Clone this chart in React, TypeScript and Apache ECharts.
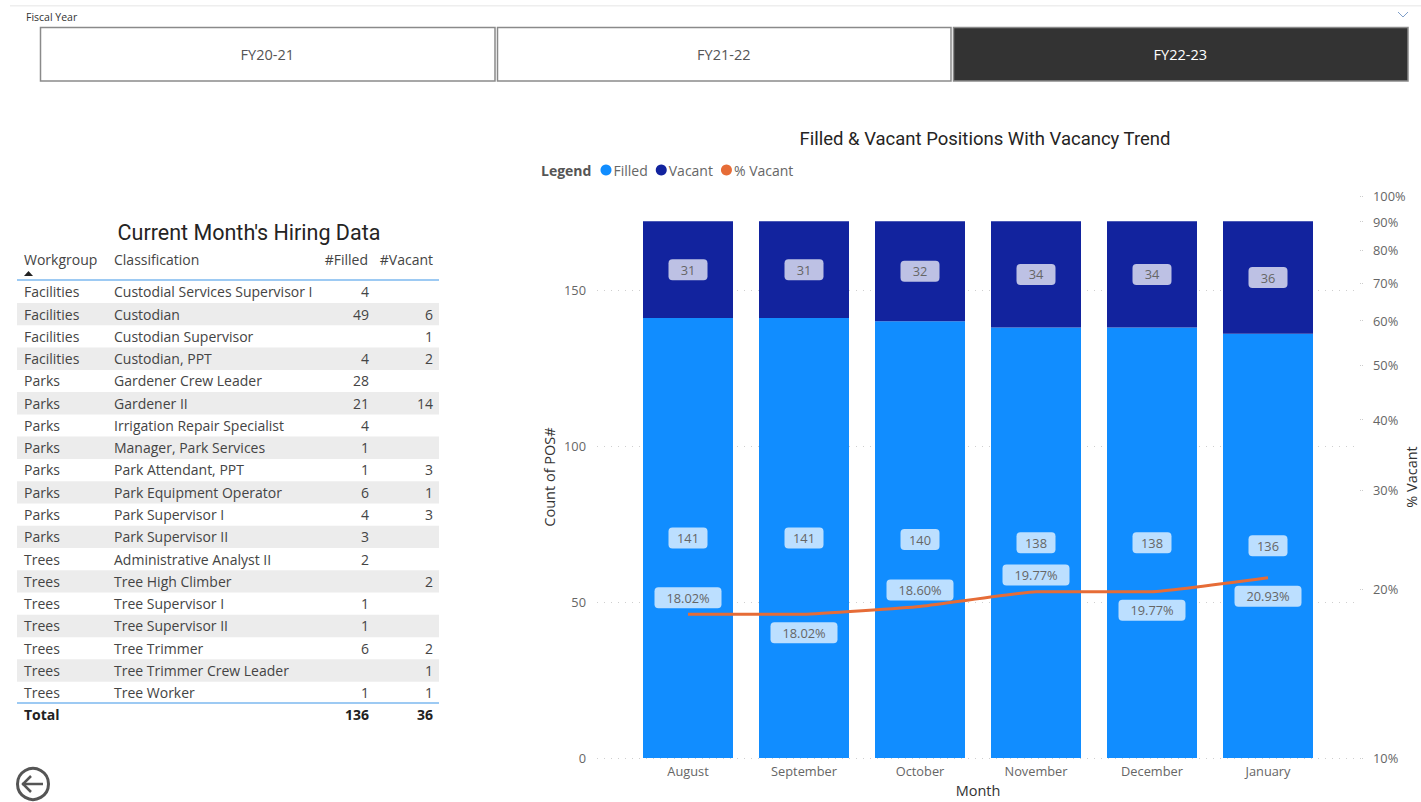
import React, { useEffect, useRef } from "react";
import * as echarts from "echarts";

const months = ["August", "September", "October", "November", "December", "January"];
const filled = [141, 141, 140, 138, 138, 136];
const vacant = [31, 31, 32, 34, 34, 36];
const pctVacant = [18.02, 18.02, 18.6, 19.77, 19.77, 20.93];
const pctTicks = [10, 20, 30, 40, 50, 60, 70, 80, 90, 100];

const fiscalYears = ["FY20-21", "FY21-22", "FY22-23"];
const tableHeader = ["Workgroup", "Classification", "#Filled", "#Vacant"];
const workgroups = ["Facilities", "Facilities", "Facilities", "Facilities", "Parks", "Parks", "Parks", "Parks", "Parks", "Parks", "Parks", "Parks", "Trees", "Trees", "Trees", "Trees", "Trees", "Trees", "Trees"];
const classifications = ["Custodial Services Supervisor I", "Custodian", "Custodian Supervisor", "Custodian, PPT", "Gardener Crew Leader", "Gardener II", "Irrigation Repair Specialist", "Manager, Park Services", "Park Attendant, PPT", "Park Equipment Operator", "Park Supervisor I", "Park Supervisor II", "Administrative Analyst II", "Tree High Climber", "Tree Supervisor I", "Tree Supervisor II", "Tree Trimmer", "Tree Trimmer Crew Leader", "Tree Worker"];
const rowFilled = [4, 49, null, 4, 28, 21, 4, 1, 1, 6, 4, 3, 2, null, 1, 1, 6, null, 1];
const rowVacant = [null, 6, 1, 2, null, 14, null, null, 3, 1, 3, null, null, 2, null, null, 2, 1, 1];
const totals = ["Total", "136", "36"];

const FONT = "'Open Sans', 'Noto Sans', sans-serif";
const TITLE_FONT = "Roboto, 'Noto Sans', sans-serif";
const GREY = "#666666";
const TEXT = "#444444";

const text = (x: number, y: number, t: string, o: any = {}) => ({
  type: "text",
  x,
  y,
  silent: true,
  style: {
    text: t,
    fontFamily: FONT,
    fontSize: 14,
    fill: TEXT,
    textVerticalAlign: "middle",
    verticalAlign: "middle",
    ...o,
  },
});

function tableGraphics() {
  const out: any[] = [];
  const rowH = 22.27;
  const y0 = 292;
  const textY = -0.2;
  const X = { wg: 24, cl: 114, fi: 369, va: 433 };
  workgroups.forEach((wg, i) => {
    const y = y0 + i * rowH;
    if (i % 2 === 1) {
      out.push({ type: "rect", shape: { x: 17, y: y - 11.3, width: 422, height: 22.4 }, style: { fill: "#ececec" }, silent: true });
    }
    out.push(text(X.wg, y + textY, wg));
    out.push(text(X.cl, y + textY, classifications[i]));
    if (rowFilled[i] != null) out.push(text(X.fi, y + textY, String(rowFilled[i]), { textAlign: "right", align: "right" }));
    if (rowVacant[i] != null) out.push(text(X.va, y + textY, String(rowVacant[i]), { textAlign: "right", align: "right" }));
  });
  out.push(text(X.wg, 259.5, tableHeader[0]));
  out.push(text(X.cl, 259.5, tableHeader[1]));
  out.push(text(368, 259.5, tableHeader[2], { textAlign: "right", align: "right" }));
  out.push(text(433, 259.5, tableHeader[3], { textAlign: "right", align: "right" }));
  out.push({ type: "polygon", shape: { points: [[24, 276], [33, 276], [28.5, 271]] }, style: { fill: "#222" }, silent: true });
  out.push({ type: "line", shape: { x1: 17, y1: 280, x2: 439, y2: 280 }, style: { stroke: "#7db8ef", lineWidth: 1.5 }, silent: true });
  out.push({ type: "line", shape: { x1: 17, y1: 703, x2: 439, y2: 703 }, style: { stroke: "#7db8ef", lineWidth: 1.5 }, silent: true });
  out.push(text(X.wg, 714.5, totals[0], { fontWeight: "bold", fill: "#222" }));
  out.push(text(X.fi, 714.5, totals[1], { fontWeight: "bold", fill: "#222", textAlign: "right", align: "right" }));
  out.push(text(X.va, 714.5, totals[2], { fontWeight: "bold", fill: "#222", textAlign: "right", align: "right" }));
  out.push(text(249, 232, "Current Month's Hiring Data", { fontFamily: TITLE_FONT, fontSize: 21.5, fontWeight: 400, fill: "#252423", textAlign: "center", align: "center" }));
  return out;
}

function headerGraphics() {
  const out: any[] = [];
  out.push({ type: "rect", shape: { x: 10, y: 5, width: 1411, height: 1.5 }, style: { fill: "#eeeeee" }, silent: true });
  out.push(text(26, 17, "Fiscal Year", { fontSize: 10.5, fill: "#333" }));
  const xs = [[40.5, 454.5], [497.5, 453.5], [953.5, 454.5]];
  fiscalYears.forEach((fy, i) => {
    const sel = i === 2;
    out.push({ type: "rect", shape: { x: xs[i][0], y: 27.5, width: xs[i][1], height: 53.5 }, style: { fill: sel ? "#333333" : "#ffffff", stroke: "#8a8a8a", lineWidth: 1.5 }, silent: true });
    out.push(text(xs[i][0] + xs[i][1] / 2 - 0.5, 54.5, fy, { fontSize: 14.5, fill: sel ? "#ffffff" : "#555555", textAlign: "center", align: "center" }));
  });
  out.push({ type: "polyline", shape: { points: [[1398, 12], [1403, 17], [1408, 12]] }, style: { stroke: "#7f9fc9", lineWidth: 1, fill: "none" }, silent: true });
  return out;
}

function chartGraphics() {
  return [
    text(541, 170, "Legend", { fontWeight: "bold", fontSize: 14, fill: "#555555" }),
    // back button
    { type: "circle", shape: { cx: 33, cy: 784, r: 15.5 }, style: { stroke: "#555555", lineWidth: 3, fill: "none" }, silent: true },
    { type: "line", shape: { x1: 22, y1: 784, x2: 43, y2: 784 }, style: { stroke: "#555555", lineWidth: 2.5 }, silent: true },
    { type: "polyline", shape: { points: [[31, 776], [23, 784], [31, 792]] }, style: { stroke: "#555555", lineWidth: 2.5, fill: "none" }, silent: true },
  ];
}

const labelBox = (width: number) => ({
  show: true,
  color: GREY,
  fontFamily: FONT,
  fontSize: 12.8,
  backgroundColor: "rgba(255,255,255,0.72)",
  borderRadius: 4,
  width,
  height: 21,
  lineHeight: 21,
});

const LINE_BELOW = [false, true, false, false, true, true];

export default function App() {
  const ref = useRef<HTMLDivElement>(null);
  useEffect(() => {
    document.body.style.margin = "0";
    const chart = echarts.init(ref.current!, undefined, { renderer: "svg" });
    const Y_MAX = 180.13;
    chart.setOption({
      animation: false,
      backgroundColor: "#ffffff",
      title: {
        text: "Filled & Vacant Positions With Vacancy Trend",
        left: 980,
        top: 124,
        textAlign: "center",
        textStyle: { fontFamily: TITLE_FONT, fontSize: 18.5, fontWeight: 400, color: "#252423" },
      },
      legend: {
        left: 600.5,
        top: 163,
        padding: 0,
        itemWidth: 11,
        itemHeight: 11,
        itemGap: 8,
        selectedMode: false,
        textStyle: { fontFamily: FONT, fontSize: 14, color: GREY, padding: [0, 0, 0, -3] },
        data: [
          { name: "Filled", icon: "circle" },
          { name: "Vacant", icon: "circle" },
          { name: "% Vacant", icon: "circle" },
        ],
      },
      grid: [
        { left: 630, top: 196, width: 696, height: 562, outerBoundsMode: "none", containLabel: false },
        { left: 597, top: 196, width: 763, height: 562, outerBoundsMode: "none", containLabel: false },
      ],
      xAxis: [
        {
          type: "category",
          gridIndex: 0,
          data: months,
          axisLine: { show: false },
          axisTick: { show: false },
          axisLabel: { color: GREY, fontFamily: FONT, fontSize: 12.8, margin: 6 },
          name: "Month",
          nameLocation: "middle",
          nameGap: 25,
          nameTextStyle: { color: "#333333", fontFamily: FONT, fontSize: 14.5 },
        },
        { type: "value", gridIndex: 1, show: false, min: 0, max: 1 },
      ],
      yAxis: [
        { type: "value", gridIndex: 0, min: 0, max: Y_MAX, interval: 50, show: false },
        {
          type: "log",
          gridIndex: 0,
          min: 10,
          max: 100,
          logBase: 10,
          position: "right",
          offset: 34,
          axisLine: { show: false },
          axisTick: { show: true, length: 3, customValues: pctTicks, lineStyle: { color: "#cccccc", type: "dotted" } },
          axisLabel: {
            customValues: pctTicks,
            formatter: "{value}%",
            color: GREY,
            fontFamily: FONT,
            fontSize: 12.8,
            margin: 13,
            hideOverlap: false,
          },
          splitLine: { show: false },
          minorTick: { show: false },
          name: "% Vacant",
          nameLocation: "middle",
          nameMoveOverlap: false,
          nameGap: 44,
          nameRotate: 90,
          nameTextStyle: { color: "#333333", fontFamily: FONT, fontSize: 14.5 },
        },
        {
          type: "value",
          gridIndex: 1,
          min: 0,
          max: Y_MAX,
          interval: 50,
          position: "left",
          axisLine: { show: false },
          axisTick: { show: false },
          axisLabel: { color: GREY, fontFamily: FONT, fontSize: 12.8, margin: 11, showMaxLabel: false },
          splitLine: { show: true, showMaxLine: false, lineStyle: { color: "#cfcfcf", type: [1, 6], width: 1 } },
          name: "Count of POS#",
          nameLocation: "middle",
          nameMoveOverlap: false,
          nameGap: 40,
          nameTextStyle: { color: "#333333", fontFamily: FONT, fontSize: 14.5 },
        },
      ],
      series: [
        {
          name: "Filled",
          type: "bar",
          stack: "pos",
          xAxisIndex: 0,
          yAxisIndex: 0,
          barWidth: 90,
          data: filled,
          itemStyle: { color: "#118DFF" },
          label: { ...labelBox(39), position: "inside" },
        },
        {
          name: "Vacant",
          type: "bar",
          stack: "pos",
          xAxisIndex: 0,
          yAxisIndex: 0,
          barWidth: 90,
          data: vacant,
          itemStyle: { color: "#12239E" },
          label: { ...labelBox(39), position: "inside" },
        },
        {
          name: "% Vacant",
          type: "line",
          xAxisIndex: 0,
          yAxisIndex: 1,
          symbol: "circle",
          symbolSize: 0.1,
          showSymbol: true,
          showAllSymbol: true,
          smooth: 0.1,
          lineStyle: { color: "#E66C37", width: 3 },
          itemStyle: { color: "#E66C37" },
          z: 5,
          data: pctVacant.map((v, i) => ({
            value: v,
            label: {
              ...labelBox(67),
              position: LINE_BELOW[i] ? "bottom" : "top",
              distance: LINE_BELOW[i] ? 8 : 6,
              formatter: v.toFixed(2) + "%",
            },
          })),
        },
      ],
      graphic: { elements: [...headerGraphics(), ...tableGraphics(), ...chartGraphics()] },
    });
    return () => chart.dispose();
  }, []);
  return <div ref={ref} style={{ position: "absolute", left: 0, top: 0, width: 1421, height: 802, overflow: "hidden" }} />;
}
